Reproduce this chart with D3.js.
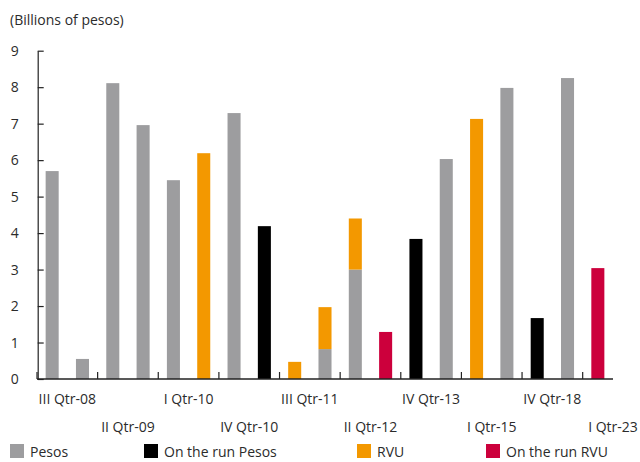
<!DOCTYPE html>
<html>
<head>
<meta charset="utf-8">
<script src="https://cdn.jsdelivr.net/npm/d3@7"></script>
<style>
  html, body { margin: 0; padding: 0; background: #fff; }
  svg { display: block; font-family: "Open Sans", "Noto Sans", sans-serif; }
</style>
</head>
<body>
<svg id="chart" width="640" height="462"></svg>
<script>
// Issue amounts per auction, billions of pesos (one entry per bar)
const pesos       = [5.70, 0.55, 8.11, 6.96, 5.45, 0, 7.29, 0, 0, 0.82, 3.00, 0, 0, 6.03, 0, 7.98, 0, 8.25, 0];
const onRunPesos  = [0, 0, 0, 0, 0, 0, 0, 4.19, 0, 0, 0, 0, 3.84, 0, 0, 0, 1.67, 0, 0];
const rvu         = [0, 0, 0, 0, 0, 6.19, 0, 0, 0.47, 1.15, 1.40, 0, 0, 0, 7.13, 0, 0, 0, 0];
const onRunRvu    = [0, 0, 0, 0, 0, 0, 0, 0, 0, 0, 0, 1.29, 0, 0, 0, 0, 0, 0, 3.04];

// Period labels, one for every pair of bars
const periodLabels = ["III Qtr-08", "II Qtr-09", "I Qtr-10", "IV Qtr-10", "III Qtr-11",
                      "II Qtr-12", "IV Qtr-13", "I Qtr-15", "IV Qtr-18", "I Qtr-23"];
const yTicks = [0, 1, 2, 3, 4, 5, 6, 7, 8, 9];

const seriesNames  = ["Pesos", "On the run Pesos", "RVU", "On the run RVU"];
const seriesColors = ["#9d9d9f", "#000000", "#f39800", "#cc003c"];

const svg = d3.select("#chart");
const textColor = "#2b2b2b";

const x0 = 37, x1 = 613, yBase = 379, yTop = 50.7;

const rows = pesos.map((v, i) => ({
  idx: String(i),
  "Pesos": v,
  "On the run Pesos": onRunPesos[i],
  "RVU": rvu[i],
  "On the run RVU": onRunRvu[i]
}));

const x = d3.scaleBand()
  .domain(rows.map(d => d.idx))
  .range([x0, x1])
  .paddingInner(0.57)
  .paddingOuter(0.285);

// Label groups span two bars each
const xGroup = d3.scaleBand()
  .domain(periodLabels)
  .range([x0, x0 + x.step() * 2 * periodLabels.length])
  .padding(0);

const y = d3.scaleLinear().domain([0, 9]).range([yBase, yTop]);

const color = d3.scaleOrdinal().domain(seriesNames).range(seriesColors);

const stacked = d3.stack().keys(seriesNames)(rows);

// Bars
svg.append("g")
  .selectAll("g")
  .data(stacked)
  .join("g")
    .attr("fill", s => color(s.key))
  .selectAll("rect")
  .data(s => s.filter(d => d[1] - d[0] > 0))
  .join("rect")
    .attr("x", d => x(d.data.idx))
    .attr("width", x.bandwidth())
    .attr("y", d => y(d[1]))
    .attr("height", d => y(d[0]) - y(d[1]));

// Y axis
const yAxis = svg.append("g")
  .attr("transform", `translate(${x0 + 0.7},0)`)
  .call(d3.axisLeft(y).tickValues(yTicks).tickSize(-6).tickPadding(19).tickSizeOuter(0));
yAxis.select(".domain").attr("stroke", "#222").attr("stroke-width", 1.2);
yAxis.selectAll(".tick line").attr("stroke", "#222").attr("stroke-width", 1.2);
yAxis.selectAll(".tick text")
  .attr("fill", textColor)
  .style("font-size", "14px")
  .style("font-family", "'Open Sans', sans-serif");

// X axis baseline
const xAxis = svg.append("g");
xAxis.append("line")
  .attr("x1", x0).attr("x2", x1)
  .attr("y1", y(0)).attr("y2", y(0))
  .attr("stroke", "#222").attr("stroke-width", 1.4);

// Tick marks between label groups
const tickPos = periodLabels.map(l => xGroup(l));
xAxis.selectAll("line.tick")
  .data(tickPos)
  .join("line")
    .attr("class", "tick")
    .attr("x1", d => d).attr("x2", d => d)
    .attr("y1", y(0)).attr("y2", y(0) - 7)
    .attr("stroke", "#222").attr("stroke-width", 1.2);

// Staggered period labels
xAxis.selectAll("text")
  .data(periodLabels)
  .join("text")
    .attr("x", d => xGroup(d) + xGroup.bandwidth() / 2)
    .attr("y", (d, i) => i % 2 === 0 ? 404 : 432)
    .attr("text-anchor", "middle")
    .attr("fill", textColor)
    .style("font-size", "14px")
    .text(d => d);

// Unit label
svg.append("text")
  .attr("x", 10).attr("y", 25)
  .attr("fill", textColor)
  .style("font-size", "14px")
  .text("(Billions of pesos)");

// Legend
const legendX = [10, 144, 357, 486];
const legend = svg.append("g")
  .selectAll("g")
  .data(seriesNames)
  .join("g")
    .attr("transform", (d, i) => `translate(${legendX[i]},444)`);
legend.append("rect")
  .attr("width", 14).attr("height", 14)
  .attr("fill", d => color(d));
legend.append("text")
  .attr("x", 20).attr("y", 13)
  .attr("fill", textColor)
  .style("font-size", "14px")
  .text(d => d);
</script>
</body>
</html>
